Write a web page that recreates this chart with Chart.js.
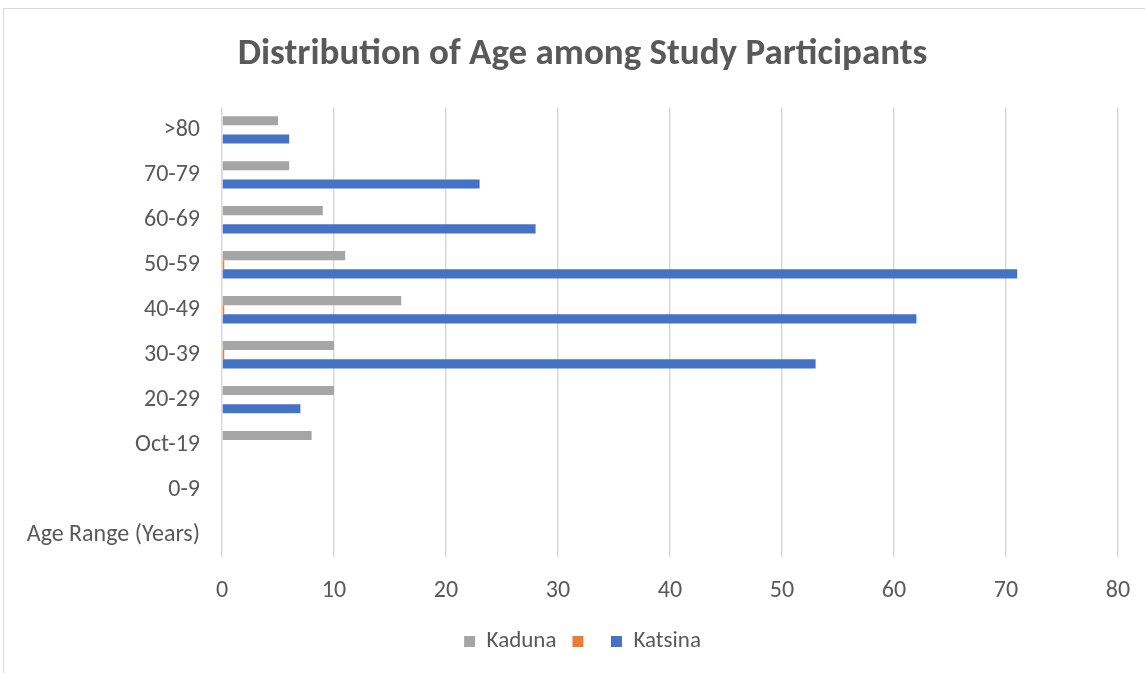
<!DOCTYPE html>
<html>
<head>
<meta charset="utf-8">
<script src="https://cdn.jsdelivr.net/npm/chart.js@4"></script>
<style>
  html, body { margin: 0; padding: 0; background: #fff; }
  #wrap { position: relative; width: 1145px; height: 673px; overflow: hidden; }
  #frame { position: absolute; left: 3px; top: 8px; width: 1200px; height: 700px;
           border: 1px solid #D9D9D9; box-sizing: border-box; }
  canvas { position: absolute; left: 0; top: 0; }
</style>
</head>
<body>
<div id="wrap">
  <div id="frame"></div>
  <canvas id="c" width="1145" height="673"></canvas>
</div>
<script>
// Age groups, listed top to bottom as drawn
const ageGroups = ['>80', '70-79', '60-69', '50-59', '40-49', '30-39', '20-29', 'Oct-19', '0-9', 'Age Range (Years)'];
const kaduna  = [5, 6, 9, 11, 16, 10, 10, 8, null, null];
const unnamed = [null, 0.05, 0.05, 0.2, 0.2, 0.2, null, null, null, null];
const katsina = [6, 23, 28, 71, 62, 53, 7, null, null, null];
const xTicks = [0, 10, 20, 30, 40, 50, 60, 70, 80];

const FONT = 'Carlito, Lato, "Liberation Sans", sans-serif';
const TEXT = '#595959';

new Chart(document.getElementById('c'), {
  type: 'bar',
  data: {
    labels: ageGroups,
    datasets: [
      { label: 'Kaduna', data: kaduna, backgroundColor: '#A5A5A5' },
      { label: '', data: unnamed, backgroundColor: '#ED7D31' },
      { label: 'Katsina', data: katsina, backgroundColor: '#4472C4' }
    ]
  },
  options: {
    indexAxis: 'y',
    responsive: false,
    animation: false,
    devicePixelRatio: 1,
    datasets: { bar: { barPercentage: 1, categoryPercentage: 0.61, borderWidth: 0 } },
    layout: { padding: { left: 20, right: 0, top: 0, bottom: 10 } },
    scales: {
      x: {
        min: 0, max: 80,
        afterBuildTicks: s => { s.ticks = xTicks.map(v => ({ value: v })); },
        grid: { color: '#D9D9D9', lineWidth: 1.5, drawTicks: false },
        border: { display: false },
        ticks: { color: TEXT, font: { family: FONT, size: 24 }, padding: 20 },
        afterFit: s => { s.height = 57; s.paddingRight = 27; }
      },
      y: {
        grid: { display: false, drawTicks: false },
        border: { display: false },
        ticks: { color: TEXT, font: { family: FONT, size: 24 }, padding: 22 },
        afterFit: s => { s.width = 202; }
      }
    },
    plugins: {
      title: {
        display: true,
        text: 'Distribution of Age among Study Participants',
        color: TEXT,
        font: { family: FONT, size: 37, weight: 'bold' },
        padding: { top: 33, bottom: 30 }
      },
      legend: {
        position: 'bottom',
        labels: {
          color: TEXT,
          font: { family: FONT, size: 23 },
          boxWidth: 11, boxHeight: 11, padding: 16
        }
      },
      tooltip: { enabled: false }
    }
  }
});
</script>
</body>
</html>
